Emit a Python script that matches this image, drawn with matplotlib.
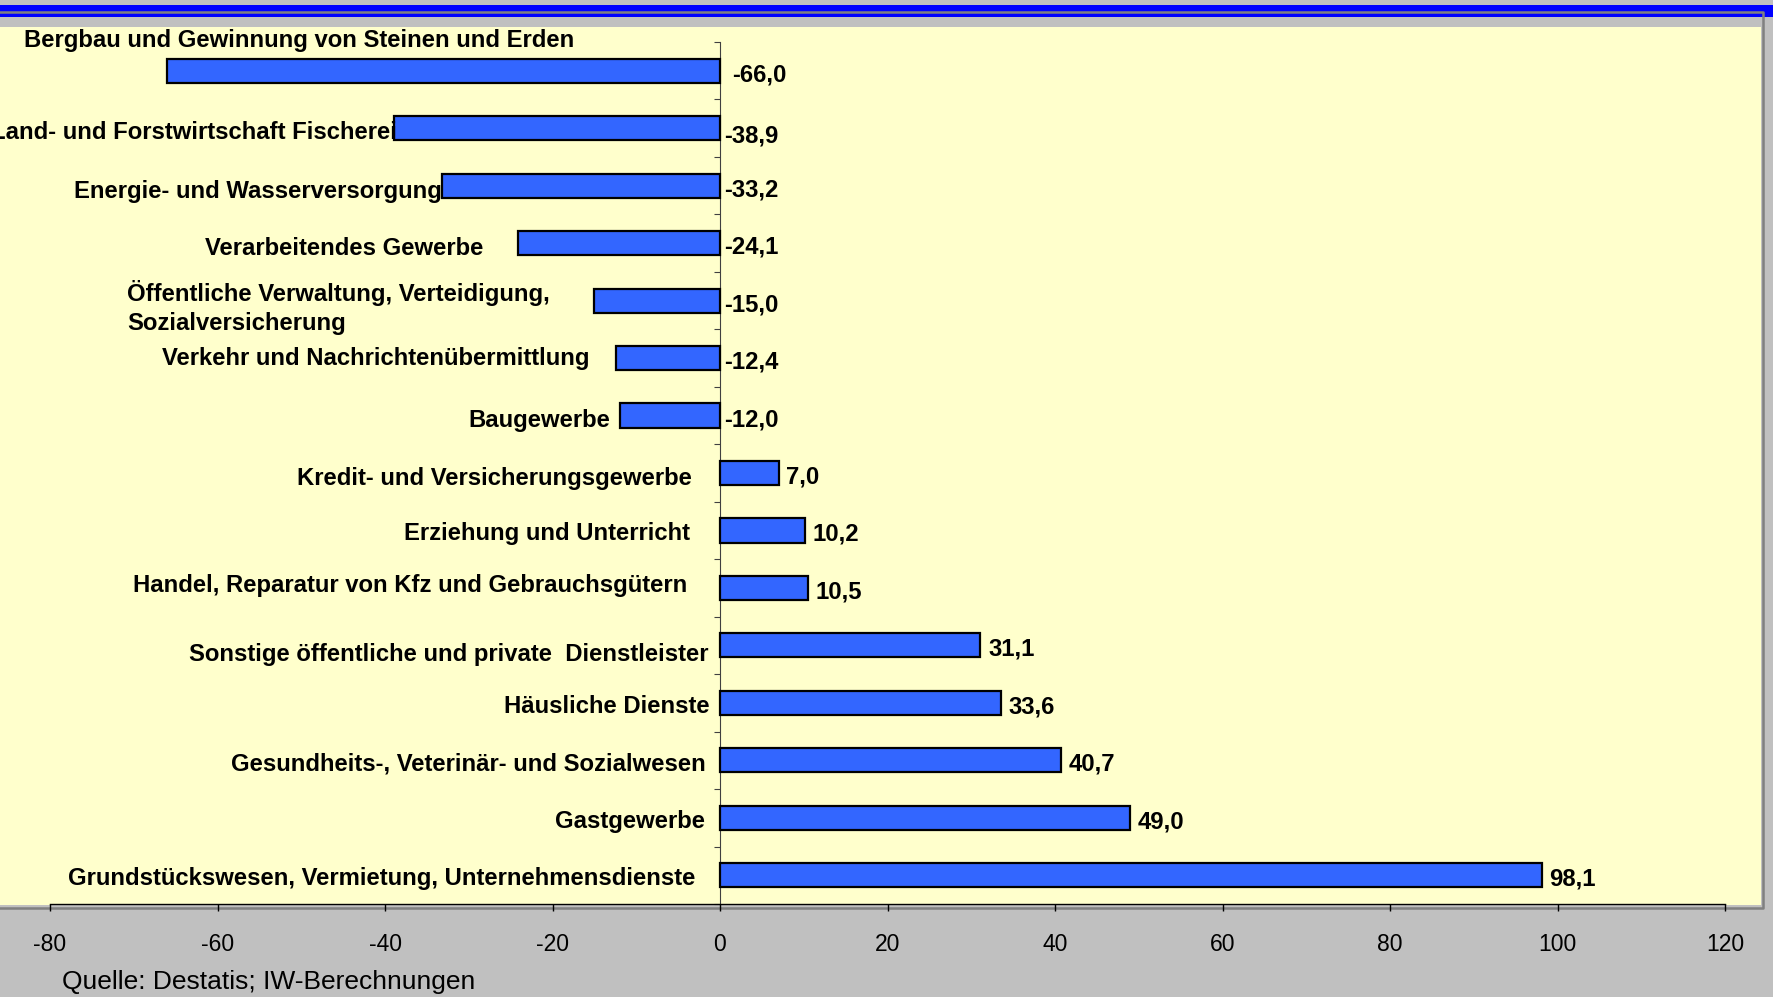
import numpy as np
import matplotlib
matplotlib.use('Agg')
import matplotlib.pyplot as plt
from matplotlib.patches import Rectangle
from matplotlib.lines import Line2D

# data: change in employment by sector (percent)
sectors = [
    "Bergbau und Gewinnung von Steinen und Erden",
    "Land- und Forstwirtschaft Fischerei",
    "Energie- und Wasserversorgung",
    "Verarbeitendes Gewerbe",
    "Öffentliche Verwaltung, Verteidigung,\nSozialversicherung",
    "Verkehr und Nachrichtenübermittlung",
    "Baugewerbe",
    "Kredit- und Versicherungsgewerbe",
    "Erziehung und Unterricht",
    "Handel, Reparatur von Kfz und Gebrauchsgütern",
    "Sonstige öffentliche und private  Dienstleister",
    "Häusliche Dienste",
    "Gesundheits-, Veterinär- und Sozialwesen",
    "Gastgewerbe",
    "Grundstückswesen, Vermietung, Unternehmensdienste",
]
values = [-66.0, -38.9, -33.2, -24.1, -15.0, -12.4, -12.0,
          7.0, 10.2, 10.5, 31.1, 33.6, 40.7, 49.0, 98.1]
x_ticks = [-80, -60, -40, -20, 0, 20, 40, 60, 80, 100, 120]
source = "Quelle: Destatis; IW-Berechnungen"

# where the sector labels sit (data x, horizontal alignment, y shift)
label_pos = [(-83.1, 'left', -0.53), (-38.6, 'right', 0.08), (-33.2, 'right', 0.10),
             (-28.3, 'right', 0.10), (-70.8, 'left', 0.12), (-15.6, 'right', 0.0),
             (-13.1, 'right', 0.08), (-3.3, 'right', 0.10), (-3.6, 'right', 0.06),
             (-3.9, 'right', -0.04), (-1.4, 'right', 0.16), (-1.2, 'right', 0.06),
             (-1.7, 'right', 0.06), (-1.8, 'right', 0.06), (-2.9, 'right', 0.06)]

W, H = 1773, 997
BOLD = dict(family='Liberation Sans', weight='bold', fontsize=17.2)


def fx(x):
    return x / W


def fy(y):
    return 1 - y / H


fig = plt.figure(figsize=(W / 100, H / 100), dpi=100, facecolor='#C0C0C0')

# frame decoration
fig.add_artist(Rectangle((0, fy(17)), 1, fy(5) - fy(17), transform=fig.transFigure,
                         facecolor='#0000FF', edgecolor='none', zorder=0))
fig.add_artist(Line2D([0, fx(1763), fx(1763), 0], [fy(12), fy(12), fy(908), fy(908)],
                      transform=fig.transFigure, color='#808080', lw=1.8, zorder=1))
fig.add_artist(Rectangle((0, fy(905)), fx(1761), fy(27) - fy(905), transform=fig.transFigure,
                         facecolor='#FFFFCC', edgecolor='none', zorder=1))

ax = fig.add_axes([fx(50), fy(904), fx(1725) - fx(50), fy(42) - fy(904)])
ax.set_facecolor('none')
ax.set_zorder(2)

y = np.arange(len(values))
ax.barh(y, values, height=0.42, color='#3366FF', edgecolor='black', linewidth=1.6, zorder=3)

ax.set_xlim(-80, 120)
ax.set_ylim(len(values) - 0.5, -0.5)

for i, (name, v) in enumerate(zip(sectors, values)):
    lx, ha, dy = label_pos[i]
    ax.text(lx, i + dy, name, ha=ha, va='center', multialignment='left',
            linespacing=1.3, clip_on=False, **BOLD)
    vx = 0.5 if v < 0 else v + 0.9
    if i == 0:
        vx = 1.4
    ax.text(vx, i + (0.13 if i == 1 else 0.07), f"{v:.1f}".replace('.', ','),
            ha='left', va='center', **BOLD)

for s in ['top', 'right']:
    ax.spines[s].set_visible(False)
ax.spines['left'].set_position(('data', 0))
ax.spines['left'].set_color('#404040')
ax.spines['left'].set_linewidth(0.8)
ax.spines['bottom'].set_color('black')
ax.spines['bottom'].set_linewidth(1.0)

ax.set_yticks(np.arange(-0.5, len(values), 1))
ax.set_yticklabels([])
ax.tick_params(axis='y', direction='out', length=4.5, width=0.8, color='#404040')

ax.set_xticks(x_ticks)
ax.set_xticklabels([str(t) for t in x_ticks], family='Liberation Sans', fontsize=16.5)
ax.tick_params(axis='x', direction='out', length=5, width=1, pad=16, labelcolor='black')

fig.text(fx(62), fy(982), source, ha='left', va='center',
         family='Liberation Sans', fontsize=19)

fig.savefig('out.png', dpi=100, facecolor=fig.get_facecolor())
